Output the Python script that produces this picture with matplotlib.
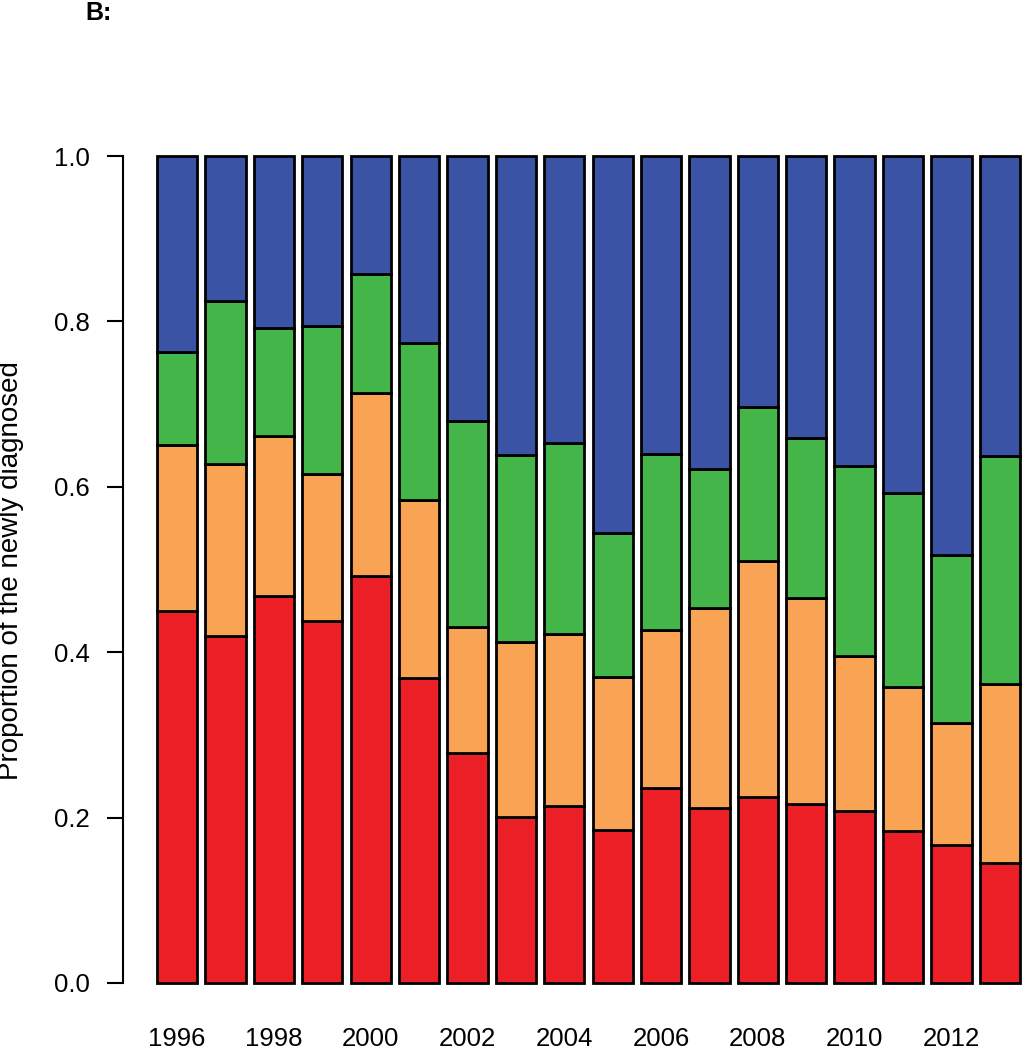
import matplotlib
matplotlib.use("Agg")
import matplotlib.pyplot as plt
import numpy as np

plt.rcParams["font.family"] = ["Liberation Sans", "DejaVu Sans"]

# ---------------------------
# Data (share of newly diagnosed per year)
# ---------------------------
years = list(range(1996, 2014))
red = [0.450, 0.420, 0.468, 0.438, 0.492, 0.369, 0.278, 0.201, 0.214,
       0.185, 0.236, 0.212, 0.225, 0.216, 0.208, 0.184, 0.167, 0.145]
orange = [0.200, 0.208, 0.194, 0.178, 0.222, 0.215, 0.152, 0.211, 0.208,
          0.185, 0.191, 0.242, 0.285, 0.250, 0.188, 0.174, 0.147, 0.217]
green = [0.113, 0.197, 0.130, 0.178, 0.143, 0.190, 0.250, 0.226, 0.231,
         0.174, 0.213, 0.167, 0.186, 0.193, 0.229, 0.234, 0.204, 0.275]
blue = [0.237, 0.175, 0.208, 0.206, 0.143, 0.226, 0.320, 0.362, 0.347,
        0.456, 0.360, 0.379, 0.304, 0.341, 0.375, 0.408, 0.482, 0.363]

series = [red, orange, green, blue]
colors = ["#EC1F26", "#F9A455", "#44B649", "#3A53A4"]

W, H = 1022, 1050
fig = plt.figure(figsize=(W / 100, H / 100), dpi=100)
ax = fig.add_axes([123 / W, 67 / H, (W - 123) / W, 827 / H])

# R barplot style: width 1, space 0.2
x = 0.7 + 1.2 * np.arange(len(years))
bottom = np.zeros(len(years))
for vals, col in zip(series, colors):
    ax.bar(x, vals, width=1.0, bottom=bottom, color=col,
           edgecolor="black", linewidth=2.0, clip_on=False)
    bottom += np.array(vals)

ax.set_xlim(-0.643, 21.65)
ax.set_ylim(0, 1)

for s in ["top", "right", "bottom"]:
    ax.spines[s].set_visible(False)
ax.spines["left"].set_linewidth(1.5)

ax.set_yticks(np.arange(0, 1.01, 0.2))
ax.set_yticklabels([f"{v:.1f}" for v in np.arange(0, 1.01, 0.2)])
ax.tick_params(axis="y", length=11.5, width=1.5, pad=12.5, labelsize=18.5)

ax.set_xticks(x[::2])
ax.set_xticklabels([str(y) for y in years[::2]])
ax.tick_params(axis="x", length=0, pad=32, labelsize=18.5)

fig.text(11 / W, 1 - 571 / H, "Proportion of the newly diagnosed",
         rotation=90, ha="center", va="center", fontsize=20)
fig.text(85 / W, 1 - 1 / H, "B:", ha="left", va="top",
         fontsize=18, fontweight="bold")

fig.savefig("out.png", dpi=100)
